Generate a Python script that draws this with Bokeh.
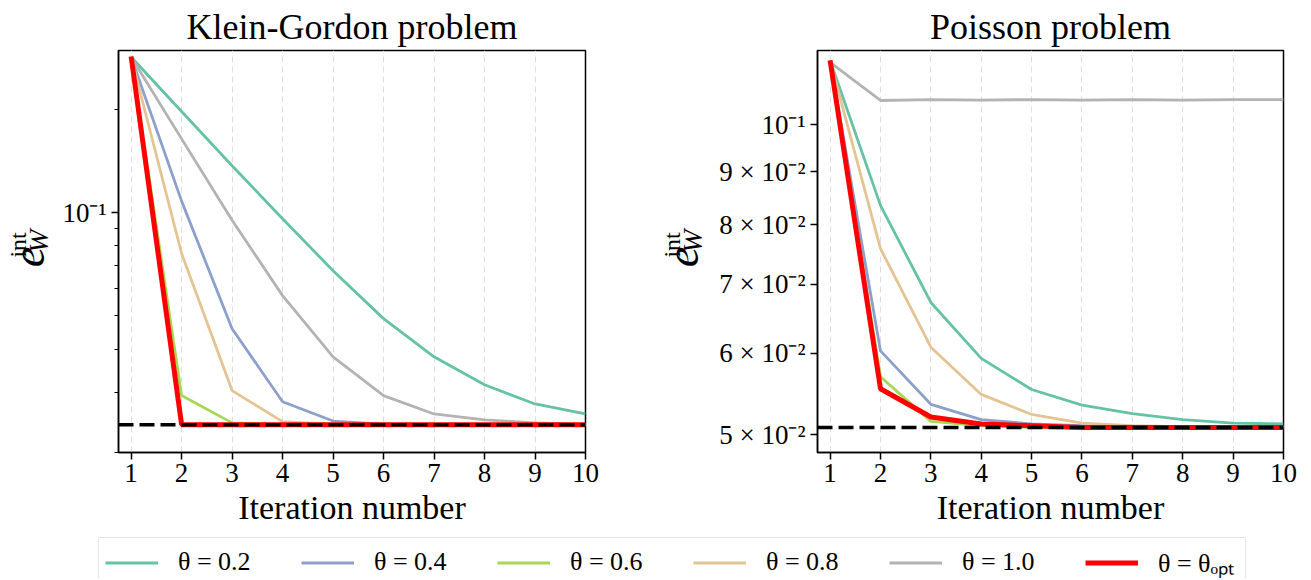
import numpy as np
from bokeh.plotting import figure
from bokeh.models import (Range1d, FixedTicker, CustomJSTickFormatter, Span,
                          Legend, LegendItem)
from bokeh.core.properties import value
from bokeh.layouts import column, row
from bokeh.embed import file_html
from bokeh.resources import INLINE

# ---------------- data ----------------
iterations = [1, 2, 3, 4, 5, 6, 7, 8, 9, 10]
series_labels = ["θ = 0.2", "θ = 0.4", "θ = 0.6", "θ = 0.8", "θ = 1.0", "θ = θₒₚₜ"]
series_colors = ["#66c2a5", "#8da0cb", "#a6d854", "#e5c494", "#b3b3b3", "#ff0000"]
panel_titles = ["Klein-Gordon problem", "Poisson problem"]

# Klein-Gordon problem
kg_theta_02 = [0.284, 0.197, 0.137, 0.0960, 0.0677, 0.0491, 0.0380, 0.0315, 0.0277, 0.0259]
kg_theta_04 = [0.284, 0.108, 0.0459, 0.0281, 0.0247, 0.0242, 0.0241, 0.0241, 0.0241, 0.0241]
kg_theta_06 = [0.284, 0.0293, 0.0244, 0.0241, 0.0241, 0.0241, 0.0241, 0.0241, 0.0241, 0.0241]
kg_theta_08 = [0.284, 0.0760, 0.0303, 0.0246, 0.0242, 0.0241, 0.0241, 0.0241, 0.0241, 0.0241]
kg_theta_10 = [0.284, 0.164, 0.095, 0.0573, 0.0380, 0.0293, 0.0259, 0.0249, 0.0244, 0.0241]
kg_theta_opt = [0.285, 0.0241, 0.0241, 0.0241, 0.0241, 0.0241, 0.0241, 0.0241, 0.0241, 0.0241]
kg_reference = 0.0241

# Poisson problem
ps_theta_02 = [0.1155, 0.0835, 0.0672, 0.0593, 0.0553, 0.0534, 0.0524, 0.0517, 0.0513, 0.0512]
ps_theta_04 = [0.1155, 0.0603, 0.0535, 0.0517, 0.0512, 0.0510, 0.0509, 0.0509, 0.0509, 0.0509]
ps_theta_06 = [0.1155, 0.0569, 0.0515, 0.0510, 0.0508, 0.0508, 0.0508, 0.0508, 0.0508, 0.0508]
ps_theta_08 = [0.1155, 0.0758, 0.0608, 0.0547, 0.0523, 0.0513, 0.0510, 0.0509, 0.0509, 0.0509]
ps_theta_10 = [0.1150, 0.1056, 0.1058, 0.1057, 0.1058, 0.1057, 0.1058, 0.1057, 0.1058, 0.1058]
ps_theta_opt = [0.1155, 0.0554, 0.0520, 0.0512, 0.0510, 0.0508, 0.0508, 0.0508, 0.0508, 0.0508]
ps_reference = 0.0508

# ticks
x_ticks = iterations
kg_yticks = [0.1]
kg_ytick_labels = ["10⁻¹"]
kg_yminor = [0.02, 0.03, 0.04, 0.05, 0.06, 0.07, 0.08, 0.09, 0.2]
ps_yticks = [0.05, 0.06, 0.07, 0.08, 0.09, 0.1]
ps_ytick_labels = ["5 × 10⁻²", "6 × 10⁻²", "7 × 10⁻²", "8 × 10⁻²", "9 × 10⁻²", "10⁻¹"]
ps_yminor = []

SERIF = "Liberation Serif"
PAGE_W = 1303
FRAME_H = 402
TOP, BOTTOM = 50, 80
ROW_H = TOP + FRAME_H + BOTTOM
LEG_H = 46


def strip(width, height, x0=0):
    f = figure(width=width, height=height,
               x_range=Range1d(x0, x0 + width), y_range=Range1d(0, height),
               x_axis_type=None, y_axis_type=None, toolbar_location=None,
               output_backend="svg", min_border=0)
    f.outline_line_color = None
    f.background_fill_color = "white"
    f.border_fill_color = "white"
    return f


def make_panel(title, series, ref, yrange, yticks, ylabels, yminor, b_left, b_right, frame_w):
    p = figure(frame_width=frame_w, frame_height=FRAME_H,
               x_range=Range1d(0.75, 10), y_range=Range1d(*yrange),
               y_axis_type="log", toolbar_location=None, output_backend="svg",
               min_border_left=b_left, min_border_right=b_right,
               min_border_top=TOP, min_border_bottom=BOTTOM)
    p.background_fill_color = "white"
    p.border_fill_color = "white"
    p.outline_line_color = "black"
    p.outline_line_width = 1.5
    p.outline_line_alpha = 1.0

    p.title.text = title
    p.title.align = "center"
    p.title.text_font = SERIF
    p.title.text_font_size = "36px"
    p.title.text_font_style = "normal"
    p.title.text_color = "black"
    p.title.standoff = 8

    p.xaxis.ticker = FixedTicker(ticks=x_ticks)
    p.yaxis.ticker = FixedTicker(ticks=yticks, minor_ticks=yminor)
    p.yaxis.formatter = CustomJSTickFormatter(
        args=dict(vals=yticks, labs=ylabels),
        code="for (let i = 0; i < vals.length; i++) { if (Math.abs(tick - vals[i]) < 1e-9 * vals[i] + 1e-12) return labs[i]; } return '';")
    for ax in (p.xaxis, p.yaxis):
        ax.axis_line_width = 1.5
        ax.axis_line_color = "black"
        ax.major_tick_line_width = 1.5
        ax.major_tick_line_color = "black"
        ax.minor_tick_line_width = 1.2
        ax.minor_tick_line_color = "black"
        ax.major_tick_out = 7
        ax.major_tick_in = 0
        ax.minor_tick_out = 4
        ax.minor_tick_in = 0
        ax.major_label_text_font = SERIF
        ax.major_label_text_font_size = "27px"
        ax.major_label_text_color = "black"
        ax.major_label_standoff = 5
    p.xaxis.minor_tick_line_color = None
    p.xaxis.major_label_standoff = 4
    p.xaxis.axis_label = "Iteration number"
    p.xaxis.axis_label_text_font = SERIF
    p.xaxis.axis_label_text_font_size = "34px"
    p.xaxis.axis_label_text_font_style = "normal"
    p.xaxis.axis_label_text_color = "black"
    p.xaxis.axis_label_standoff = 4

    p.xgrid.grid_line_color = "#dedede"
    p.xgrid.grid_line_dash = "6 4"
    p.xgrid.grid_line_width = 1
    p.ygrid.visible = False

    for vals, col in zip(series, series_colors):
        lw = 5 if col == "#ff0000" else 2.8
        p.line(iterations, vals, line_color=col, line_width=lw)

    p.add_layout(Span(location=ref, dimension="width", line_color="black",
                      line_width=3.5, line_dash="15 6"))
    return p


def make_ylabel(x_left, x_right, e_mid_x, e_page_y):
    """Narrow strip carrying the y label  e_W^int  (page-pixel ranges)."""
    f = strip(x_right - x_left, ROW_H, x_left)
    ang = np.pi / 2
    e_y = ROW_H - e_page_y
    parts = [("e", e_mid_x, e_y, "46px", "italic"),
             ("W", e_mid_x + 10, e_y + 19, "28px", "italic"),
             ("int", e_mid_x - 11, e_y + 13, "24px", "normal")]
    for txt, x, y, size, style in parts:
        f.text(x=[x], y=[y], text=[txt], angle=ang,
               text_align="left", text_baseline="middle",
               text_font=value(SERIF), text_font_size=value(size),
               text_font_style=style, text_color="black")
    return f


p1 = make_panel(panel_titles[0],
                [kg_theta_02, kg_theta_04, kg_theta_06, kg_theta_08, kg_theta_10, kg_theta_opt],
                kg_reference, (0.02, 0.2967), kg_yticks, kg_ytick_labels, kg_yminor,
                60, 70, 467)
p2 = make_panel(panel_titles[1],
                [ps_theta_02, ps_theta_04, ps_theta_06, ps_theta_08, ps_theta_10, ps_theta_opt],
                ps_reference, (0.04803, 0.1181), ps_yticks, ps_ytick_labels, ps_yminor,
                101, 20, 466)

yl1 = make_ylabel(0, 58, 28, 287)
yl2 = make_ylabel(655, 716, 682, 287)

# legend strip
lf = strip(PAGE_W, LEG_H)
items = []
for col, lab in zip(series_colors, series_labels):
    lw = 5 if col == "#ff0000" else 2.8
    r = lf.line(x=np.array([np.nan]), y=np.array([np.nan]), line_color=col, line_width=lw)
    items.append(LegendItem(label=lab, renderers=[r]))
legend = Legend(items=items, orientation="horizontal", location=(98, -9),
                glyph_width=53, glyph_height=25, label_width=81, label_height=25,
                label_standoff=20, spacing=42, padding=6, margin=0,
                border_line_color="#cccccc", border_line_width=1.2,
                label_text_font=SERIF, label_text_font_size="26px",
                label_text_color="black", background_fill_color="white")
lf.add_layout(legend)

layout = column(row(yl1, p1, yl2, p2), lf)

open("out.html", "w").write(file_html(layout, INLINE))
